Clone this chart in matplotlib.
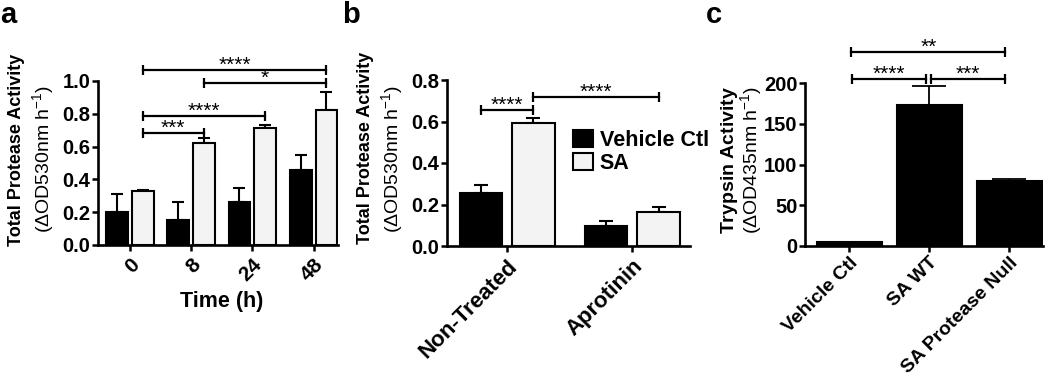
import numpy as np
import matplotlib
matplotlib.use('Agg')
import matplotlib.pyplot as plt

plt.rcParams['font.family'] = ['Liberation Sans', 'DejaVu Sans']
plt.rcParams['mathtext.fontset'] = 'custom'
plt.rcParams['mathtext.rm'] = 'Liberation Sans'
plt.rcParams['mathtext.it'] = 'Liberation Sans:italic'
plt.rcParams['mathtext.bf'] = 'Liberation Sans:bold'

# Data
# panel a - total protease activity over time
time_labels = ['0', '8', '24', '48']
a_vehicle = [0.20, 0.15, 0.26, 0.46]
a_vehicle_err = [0.11, 0.11, 0.085, 0.09]
a_sa = [0.33, 0.625, 0.715, 0.825]
a_sa_err = [0.004, 0.025, 0.017, 0.11]

# panel b - aprotinin
b_labels = ['Non-Treated', 'Aprotinin']
b_vehicle = [0.257, 0.096]
b_vehicle_err = [0.035, 0.023]
b_sa = [0.594, 0.164]
b_sa_err = [0.023, 0.024]

# panel c - trypsin activity
c_labels = ['Vehicle Ctl', 'SA WT', 'SA Protease Null']
c_values = [4.0, 173, 80]
c_err = [0.8, 24, 2.5]

# significance brackets: (x1, x2, height, label)
a_sig = [(0, 1, 0.685, '***'), (0, 2, 0.785, '****'),
         (1, 3, 0.988, '*'), (0, 3, 1.07, '****')]
b_sig = [(0, 1, 0.654, '****'), (1, 3, 0.718, '****')]   # indexes into bar positions
c_sig = [(0.04, 0.96, 205, '****'), (1.02, 1.94, 205, '***'), (0.03, 1.95, 239, '**')]

LIGHT = '#f3f3f3'
W, H = 1050, 377
fig = plt.figure(figsize=(W / 100, H / 100), dpi=100)


def px_axes(x0, x1, y0, y1):
    # pixel box (left, right, bottom-y, top-y) -> figure axes
    return fig.add_axes([x0 / W, 1 - y0 / H, (x1 - x0) / W, (y0 - y1) / H])


def style(ax, xpad=3):
    for s in ['top', 'right']:
        ax.spines[s].set_visible(False)
    for s in ['left', 'bottom']:
        ax.spines[s].set_linewidth(1.9)
    ax.tick_params(axis='both', direction='out', length=4, width=1.8, pad=1.5,
                   labelsize=14.5)
    ax.tick_params(axis='x', pad=xpad)
    for lab in ax.get_yticklabels():
        lab.set_fontweight('bold')


def bracket(ax, x1, x2, y, label):
    ax.plot([x1, x2], [y, y], color='k', lw=1.6, marker='|', markersize=7,
            mew=1.6, clip_on=False, zorder=5)
    ax.annotate(label, xy=((x1 + x2) / 2, y), xytext=(0, -3.5),
                textcoords='offset points', ha='center', va='bottom',
                fontsize=15, annotation_clip=False)


def xlabels(ax, labels, size=14.5):
    ax.set_xticklabels(labels, rotation=45, ha='right', va='top',
                       rotation_mode='anchor', fontweight='bold', fontsize=size)


######## Panel a
ax = px_axes(98, 338, 245, 81)
xa = np.arange(len(time_labels))
off, bw = 0.21, 0.355
ax.bar(xa - off, a_vehicle, bw, color='k', edgecolor='k', lw=1.5, zorder=3)
ax.bar(xa + off, a_sa, bw, color=LIGHT, edgecolor='k', lw=1.5, zorder=3)
ax.errorbar(xa - off, a_vehicle, yerr=[np.zeros(4), a_vehicle_err], fmt='none',
            ecolor='k', elinewidth=1.5, capsize=4.5, capthick=1.5, zorder=2)
ax.errorbar(xa + off, a_sa, yerr=[np.zeros(4), a_sa_err], fmt='none',
            ecolor='k', elinewidth=1.5, capsize=4.5, capthick=1.5, zorder=2)
ax.set_xlim(-0.52, 3.40)
ax.set_ylim(0, 1.0)
ax.set_yticks(np.arange(0, 1.01, 0.2))
ax.set_yticklabels([f'{v:.1f}' for v in np.arange(0, 1.01, 0.2)])
ax.set_xticks(xa)
style(ax)
xlabels(ax, time_labels, size=15)
for i, j, y, lab in a_sig:
    bracket(ax, xa[i] + off, xa[j] + off, y, lab)

######## Panel b
ax = px_axes(447, 690, 246, 80)
xb = np.arange(len(b_labels))
off, bw = 0.21, 0.34
ax.bar(xb - off, b_vehicle, bw, color='k', edgecolor='k', lw=1.5, zorder=3,
       label='Vehicle Ctl')
ax.bar(xb + off, b_sa, bw, color=LIGHT, edgecolor='k', lw=1.5, zorder=3, label='SA')
ax.errorbar(xb - off, b_vehicle, yerr=[np.zeros(2), b_vehicle_err], fmt='none',
            ecolor='k', elinewidth=1.5, capsize=5, capthick=1.5, zorder=2)
ax.errorbar(xb + off, b_sa, yerr=[np.zeros(2), b_sa_err], fmt='none',
            ecolor='k', elinewidth=1.5, capsize=5, capthick=1.5, zorder=2)
ax.set_xlim(-0.48, 1.46)
ax.set_ylim(0, 0.8)
ax.set_yticks(np.arange(0, 0.81, 0.2))
ax.set_yticklabels([f'{v:.1f}' for v in np.arange(0, 0.81, 0.2)])
ax.set_xticks(xb)
style(ax)
xlabels(ax, b_labels, size=16)
b_pos = [xb[0] - off, xb[0] + off, xb[1] - off, xb[1] + off]
for i, j, y, lab in b_sig:
    bracket(ax, b_pos[i], b_pos[j], y, lab)
leg = ax.legend(loc='upper left', bbox_to_anchor=(573 / W, 1 - 130 / H),
                bbox_transform=fig.transFigure, frameon=False, borderpad=0,
                borderaxespad=0, handlelength=0.95, handleheight=0.85,
                handletextpad=0.3, labelspacing=0.1,
                prop={'weight': 'bold', 'size': 15.5})

######## Panel c
ax = px_axes(805, 1043, 245.7, 83.3)
xc = np.arange(len(c_labels))
ax.bar(xc, c_values, 0.81, color='k', edgecolor='k', lw=1.5, zorder=3)
ax.errorbar(xc, c_values, yerr=[np.zeros(3), c_err], fmt='none', ecolor='k',
            elinewidth=1.3, capsize=12, capthick=1.3, zorder=2)
ax.set_xlim(-0.55, 2.42)
ax.set_ylim(0, 200)
ax.set_yticks([0, 50, 100, 150, 200])
ax.set_xticks(xc)
style(ax, xpad=2)
xlabels(ax, c_labels, size=14)
for x1, x2, y, lab in c_sig:
    bracket(ax, x1, x2, y, lab)

######## Labels
for x, y, t in [(17, 150, 'Total Protease Activity'), (366, 148, 'Total Protease Activity')]:
    fig.text(x / W, 1 - y / H, t, rotation=90, ha='center', va='center',
             fontsize=13, fontweight='bold')
for x, y, t in [(43, 159, r'($\Delta$OD530nm h$^{-1}$)'),
                (392, 159, r'($\Delta$OD530nm h$^{-1}$)')]:
    fig.text(x / W, 1 - y / H, t, rotation=90, ha='center', va='center', fontsize=14)
# panel c label as one two-line text
fig.text(741 / W, 1 - 160 / H,
         r'$\mathbf{Trypsin\ Activity}$' + '\n' + r'($\Delta$OD435nm h$^{-1}$)',
         rotation=90, ha='center', va='center', multialignment='center',
         fontsize=14, linespacing=0.9)

fig.text(222 / W, 1 - 302 / H, 'Time (h)', ha='center', va='center',
         fontsize=15.5, fontweight='bold')

for x, t in [(0, 'a'), (342, 'b'), (706, 'c')]:
    fig.text(x / W, 1 - 1 / H, t, ha='left', va='top', fontsize=21, fontweight='bold')

fig.savefig('out.png', dpi=100)
